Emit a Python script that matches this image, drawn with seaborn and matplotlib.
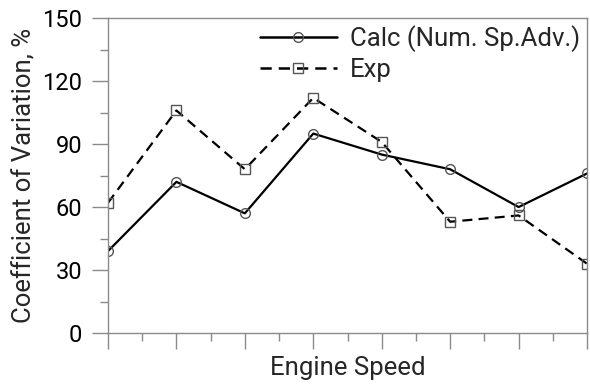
import numpy as np
import pandas as pd
import matplotlib
matplotlib.use("Agg")
import matplotlib.pyplot as plt
import seaborn as sns
from matplotlib.ticker import MultipleLocator, NullFormatter

# Coefficient of variation at each engine-speed step
speed_step = [0, 1, 2, 3, 4, 5, 6, 7]
calc_cov = [39, 72, 57, 95, 85, 78, 60, 76]
exp_cov = [62, 106, 78, 112, 91, 53, 56, 33]

series_calc = "Calc (Num. Sp.Adv.)"
series_exp = "Exp"

df = pd.DataFrame({
    "speed": speed_step * 2,
    "cov": calc_cov + exp_cov,
    "series": [series_calc] * len(calc_cov) + [series_exp] * len(exp_cov),
})

sns.set_style("white")
plt.rcParams["font.family"] = ["Roboto", "DejaVu Sans"]

fig = plt.figure(figsize=(5.9, 3.85), dpi=100)
ax = fig.add_axes([0.183, 0.135, 0.812, 0.818])

sns.lineplot(
    data=df, x="speed", y="cov", style="series", ax=ax,
    style_order=[series_calc, series_exp],
    dashes={series_calc: "", series_exp: (4.5, 2.8)},
    markers={series_calc: "o", series_exp: "s"},
    color="black", linewidth=1.6,
    markersize=7, markerfacecolor="none",
    markeredgecolor="#555555", markeredgewidth=1.0,
)

ax.set_xlim(0, 7)
ax.set_ylim(0, 150)
ax.xaxis.set_major_locator(MultipleLocator(1))
ax.xaxis.set_minor_locator(MultipleLocator(0.5))
ax.xaxis.set_major_formatter(NullFormatter())
ax.yaxis.set_major_locator(MultipleLocator(30))
ax.yaxis.set_minor_locator(MultipleLocator(15))

grey = "#8a8a8a"
for sp in ax.spines.values():
    sp.set_color(grey)
    sp.set_linewidth(1.0)
ax.tick_params(which="major", direction="out", length=11.5, width=1.0,
               color=grey, labelsize=17, labelcolor="black", pad=7)
ax.tick_params(which="minor", direction="out", length=6, width=1.0, color=grey)
ax.tick_params(axis="x", which="both", bottom=True)
ax.tick_params(axis="y", which="both", left=True)

ax.set_xlabel("Engine Speed", fontsize=18.5, va="center")
ax.xaxis.set_label_coords(0.5, -0.112)
ax.set_ylabel("Coefficient of Variation, %", fontsize=18.5, labelpad=4)

leg = ax.legend(loc="upper right", bbox_to_anchor=(1.017, 1.027), frameon=False,
                fontsize=18.5, handlelength=3.0, handletextpad=0.5,
                labelspacing=0.22, borderaxespad=0.2)
for line in leg.get_lines():
    line.set_linewidth(1.8)

fig.savefig("out.png", dpi=100)
